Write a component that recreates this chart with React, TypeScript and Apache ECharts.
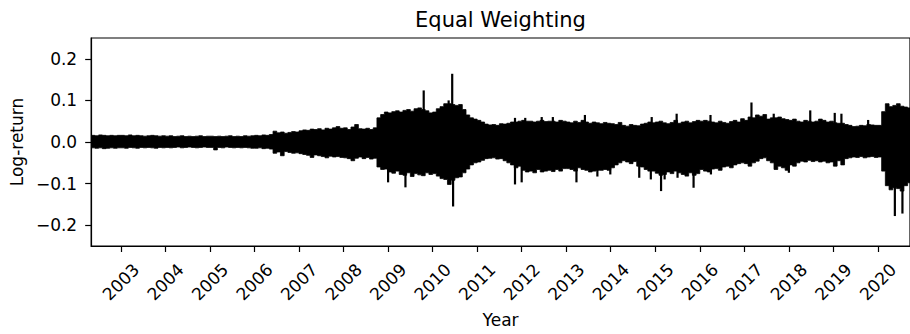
import { useEffect, useRef } from "react";
import * as echarts from "echarts";

const TITLE = "Equal Weighting";
const X_NAME = "Year";
const Y_NAME = "Log-return";
const FONT = "'DejaVu Sans', sans-serif";

const YEAR_TICKS = [
  2003, 2004, 2005, 2006, 2007, 2008, 2009, 2010, 2011, 2012, 2013, 2014,
  2015, 2016, 2017, 2018, 2019, 2020,
];
const RETURN_TICKS = [-0.2, -0.1, 0, 0.1, 0.2];

// First month covered by the monthly arrays below.
const FIRST_YEAR = 2002;
const FIRST_MONTH = 5;

// Highest daily log-return in each month (May 2002 - Sep 2020), one row per year.
const monthlyHigh = [
  0.016, 0.015, 0.017, 0.016, 0.015, 0.016, 0.015, 0.016,
  0.016, 0.015, 0.017, 0.015, 0.016, 0.015, 0.014, 0.015, 0.016, 0.015, 0.014, 0.015,
  0.014, 0.015, 0.013, 0.014, 0.015, 0.013, 0.014, 0.013, 0.014, 0.015, 0.013, 0.014,
  0.014, 0.013, 0.014, 0.013, 0.014, 0.015, 0.013, 0.014, 0.013, 0.015, 0.014, 0.015,
  0.016, 0.015, 0.017, 0.016, 0.018, 0.026, 0.022, 0.024, 0.021, 0.023, 0.025, 0.024,
  0.027, 0.029, 0.028, 0.031, 0.030, 0.032, 0.029, 0.033, 0.031, 0.034, 0.037, 0.033,
  0.034, 0.030, 0.036, 0.042, 0.032, 0.031, 0.033, 0.030, 0.034, 0.058, 0.066, 0.072,
  0.070, 0.073, 0.075, 0.072, 0.076, 0.078, 0.074, 0.080, 0.082, 0.078, 0.075, 0.070,
  0.072, 0.080, 0.085, 0.092, 0.092, 0.090, 0.088, 0.090, 0.078, 0.065, 0.058, 0.055,
  0.052, 0.048, 0.043, 0.041, 0.042, 0.040, 0.044, 0.043, 0.045, 0.048, 0.048, 0.050,
  0.052, 0.050, 0.050, 0.048, 0.050, 0.052, 0.049, 0.050, 0.050, 0.048, 0.052, 0.050,
  0.048, 0.046, 0.050, 0.047, 0.052, 0.048, 0.045, 0.048, 0.046, 0.044, 0.047, 0.045,
  0.044, 0.042, 0.047, 0.040, 0.038, 0.042, 0.040, 0.039, 0.043, 0.045, 0.048, 0.046,
  0.048, 0.050, 0.046, 0.044, 0.047, 0.052, 0.045, 0.048, 0.050, 0.046, 0.049, 0.052,
  0.050, 0.052, 0.050, 0.048, 0.046, 0.050, 0.047, 0.045, 0.049, 0.052, 0.048, 0.056,
  0.052, 0.060, 0.058, 0.065, 0.062, 0.066, 0.055, 0.058, 0.058, 0.060, 0.056, 0.054,
  0.052, 0.055, 0.050, 0.048, 0.052, 0.050, 0.048, 0.050, 0.055, 0.052, 0.048, 0.050,
  0.046, 0.045, 0.045, 0.042, 0.040, 0.037, 0.038, 0.040, 0.039, 0.042, 0.041, 0.040,
  0.040, 0.073, 0.092, 0.085, 0.088, 0.092, 0.086, 0.084, 0.082,
];

// Lowest daily log-return in each month (May 2002 - Sep 2020), one row per year.
const monthlyLow = [
  -0.014, -0.015, -0.014, -0.016, -0.015, -0.014, -0.015, -0.014,
  -0.014, -0.015, -0.013, -0.014, -0.015, -0.013, -0.014, -0.013, -0.014, -0.015, -0.013, -0.014,
  -0.013, -0.014, -0.013, -0.012, -0.014, -0.013, -0.012, -0.013, -0.014, -0.013, -0.012, -0.013,
  -0.013, -0.019, -0.013, -0.014, -0.012, -0.013, -0.014, -0.013, -0.014, -0.013, -0.014, -0.015,
  -0.015, -0.014, -0.016, -0.015, -0.017, -0.027, -0.024, -0.033, -0.023, -0.025, -0.027, -0.026,
  -0.028, -0.030, -0.032, -0.037, -0.031, -0.033, -0.035, -0.038, -0.034, -0.036, -0.035, -0.037,
  -0.038, -0.040, -0.045, -0.039, -0.036, -0.040, -0.037, -0.041, -0.039, -0.060, -0.066, -0.065,
  -0.072, -0.075, -0.070, -0.078, -0.080, -0.074, -0.083, -0.076, -0.079, -0.081, -0.074, -0.078,
  -0.076, -0.082, -0.088, -0.090, -0.102, -0.092, -0.086, -0.084, -0.074, -0.065, -0.055, -0.050,
  -0.048, -0.044, -0.040, -0.039, -0.038, -0.041, -0.040, -0.045, -0.050, -0.055, -0.062, -0.058,
  -0.068, -0.072, -0.070, -0.074, -0.066, -0.072, -0.070, -0.068, -0.071, -0.066, -0.070, -0.064,
  -0.064, -0.066, -0.070, -0.062, -0.066, -0.068, -0.072, -0.070, -0.068, -0.068, -0.066, -0.068,
  -0.062, -0.055, -0.050, -0.045, -0.048, -0.052, -0.047, -0.058, -0.060, -0.066, -0.070, -0.070,
  -0.075, -0.080, -0.078, -0.072, -0.076, -0.070, -0.074, -0.078, -0.082, -0.074, -0.080, -0.076,
  -0.066, -0.070, -0.072, -0.065, -0.064, -0.068, -0.060, -0.058, -0.062, -0.055, -0.052, -0.050,
  -0.052, -0.058, -0.050, -0.046, -0.040, -0.038, -0.045, -0.050, -0.066, -0.058, -0.062, -0.068,
  -0.055, -0.058, -0.050, -0.046, -0.048, -0.044, -0.047, -0.045, -0.048, -0.046, -0.050, -0.048,
  -0.058, -0.045, -0.055, -0.040, -0.038, -0.036, -0.037, -0.035, -0.038, -0.036, -0.035, -0.037,
  -0.036, -0.070, -0.105, -0.115, -0.110, -0.112, -0.118, -0.105, -0.098,
];

// Single days whose return sticks out of the monthly range: [decimal year, log-return].
const extremeDays: [number, number][] = [
  [2009.0, -0.097],
  [2009.39, -0.109],
  [2009.8, 0.124],
  [2010.36, 0.1],
  [2010.44, 0.164],
  [2010.46, -0.155],
  [2011.85, 0.058],
  [2011.85, -0.102],
  [2012.0, -0.097],
  [2012.08, 0.058],
  [2012.45, 0.06],
  [2012.7, 0.06],
  [2013.23, -0.097],
  [2013.42, 0.065],
  [2013.7, -0.083],
  [2013.99, -0.078],
  [2014.64, -0.086],
  [2014.9, -0.09],
  [2014.92, 0.06],
  [2015.13, -0.118],
  [2015.21, -0.09],
  [2015.48, 0.068],
  [2015.5, -0.086],
  [2015.86, -0.11],
  [2016.24, 0.065],
  [2016.25, -0.078],
  [2017.16, 0.095],
  [2017.66, 0.068],
  [2018.0, -0.074],
  [2018.48, 0.076],
  [2019.03, 0.07],
  [2019.18, 0.068],
  [2019.78, 0.053],
  [2020.38, -0.178],
  [2020.55, -0.172],
];

const monthStart = (i: number) => FIRST_YEAR + (FIRST_MONTH - 1 + i) / 12;

const formatReturn = (v: number) =>
  (v < -1e-9 ? "\u2212" : "") + Math.abs(v).toFixed(1);

export default function App() {
  const ref = useRef<HTMLDivElement>(null);

  useEffect(() => {
    document.body.style.margin = "0";
    if (!ref.current) return;
    const chart = echarts.init(ref.current, undefined, { renderer: "svg" });

    // One row per month: [start, end, high, low]
    const bandData = monthlyHigh.map((hi, i) => [
      monthStart(i),
      monthStart(i + 1),
      hi,
      monthlyLow[i],
    ]);

    const axisText = { fontFamily: FONT, fontSize: 17, color: "#000" };
    const black = { color: "#000", width: 1.2 };

    chart.setOption({
      animation: false,
      backgroundColor: "#fff",
      title: {
        text: TITLE,
        left: 500.5,
        top: 9,
        padding: 0,
        textAlign: "center",
        textStyle: {
          fontFamily: FONT,
          fontSize: 21,
          fontWeight: "normal",
          color: "#000",
        },
      },
      grid: {
        left: 89,
        top: 38,
        width: 823,
        height: 208,
        show: true,
        borderColor: "#000",
        borderWidth: 1.2,
        backgroundColor: "transparent",
      },
      xAxis: {
        type: "value",
        min: 2002.333,
        max: 2020.72,
        name: X_NAME,
        nameLocation: "middle",
        nameGap: 65,
        nameTextStyle: axisText,
        axisLine: { show: true, onZero: false, lineStyle: black },
        axisTick: {
          show: true,
          length: 6,
          lineStyle: black,
          customValues: YEAR_TICKS,
        },
        axisLabel: {
          ...axisText,
          customValues: YEAR_TICKS,
          rotate: 45,
          align: "center",
          verticalAlign: "middle",
          margin: 36,
          formatter: (v: number) => String(Math.round(v)),
        },
        splitLine: { show: false },
      },
      yAxis: {
        type: "value",
        min: -0.25,
        max: 0.25,
        name: Y_NAME,
        nameLocation: "middle",
        nameRotate: 90,
        nameGap: 65,
        nameTextStyle: axisText,
        axisLine: { show: true, onZero: false, lineStyle: black },
        axisTick: {
          show: true,
          length: 6,
          lineStyle: black,
          customValues: RETURN_TICKS,
        },
        axisLabel: {
          ...axisText,
          customValues: RETURN_TICKS,
          margin: 14,
          formatter: formatReturn,
        },
        splitLine: { show: false },
      },
      series: [
        {
          // The whole monthly high/low envelope as one outline, so that
          // neighbouring months join without seams.
          type: "custom",
          name: "monthly range",
          silent: true,
          clip: true,
          encode: { x: [0, 1], y: [2, 3] },
          data: bandData,
          renderItem: (params: any, api: any) => {
            if (params.dataIndex !== 0) return { type: "group", children: [] };
            const top: number[][] = [];
            const bottom: number[][] = [];
            bandData.forEach(([x0, x1, hi, lo]) => {
              top.push(api.coord([x0, hi]), api.coord([x1, hi]));
              bottom.push(api.coord([x0, lo]), api.coord([x1, lo]));
            });
            return {
              type: "polygon",
              shape: { points: top.concat(bottom.reverse()) },
              style: { fill: "#000", stroke: "#000", lineWidth: 0.8, lineJoin: "miter" },
            };
          },
        },
        {
          type: "custom",
          name: "extreme days",
          silent: true,
          clip: true,
          encode: { x: 0, y: 1 },
          data: extremeDays,
          renderItem: (_params: any, api: any) => {
            const a = api.coord([api.value(0), 0]);
            const b = api.coord([api.value(0), api.value(1)]);
            return {
              type: "line",
              shape: { x1: a[0], y1: a[1], x2: b[0], y2: b[1] },
              style: { stroke: "#000", lineWidth: 2.2 },
            };
          },
        },
      ],
    });

    return () => chart.dispose();
  }, []);

  return <div ref={ref} style={{ width: 910, height: 334 }} />;
}
